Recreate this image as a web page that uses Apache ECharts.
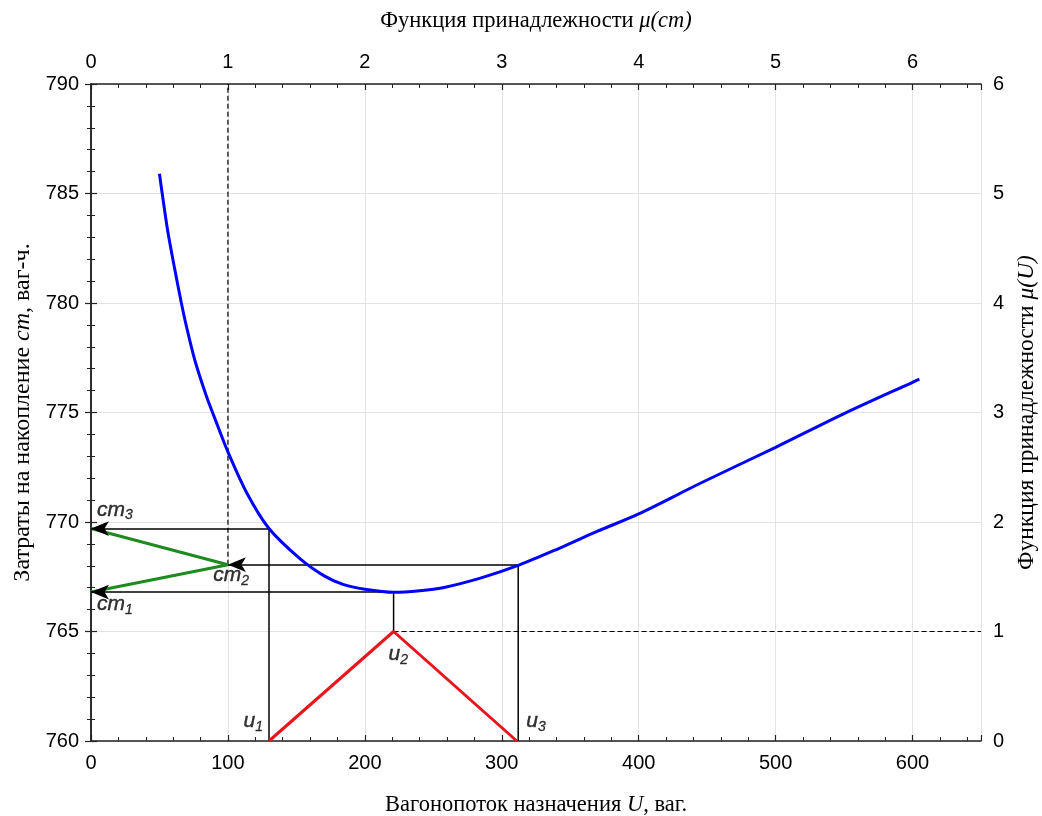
<!DOCTYPE html>
<html>
<head>
<meta charset="utf-8">
<script src="https://cdn.jsdelivr.net/npm/echarts@6.0.0/dist/echarts.min.js"></script>
<style>
  html, body { margin: 0; padding: 0; background: #fff; }
  #chart { width: 1042px; height: 816px; }
</style>
</head>
<body>
<div id="chart"></div>
<script>
// blue cost curve cm(U)
const curveU = [50, 52, 56, 61, 66, 70, 76, 84, 90, 100, 114, 130, 153, 170, 184, 200, 221, 240, 257, 285, 313, 342, 370, 400, 445, 500, 550, 600, 605];
const curveCost = [785.9, 785.0, 783.3, 781.6, 780.0, 778.85, 777.35, 775.8, 774.8, 773.2, 771.3, 769.7, 768.3, 767.55, 767.15, 766.93, 766.79, 766.86, 767.0, 767.45, 768.04, 768.8, 769.58, 770.37, 771.77, 773.41, 774.95, 776.38, 776.52];

// triangular membership mu(U): u1, u2, u3 (right axis)
const uPoints = [130, 221, 311];
const muU = [0, 1, 0];

// cost levels cm3, cm2, cm1 and their membership mu(cm) (top axis)
const cmValues = [769.7, 768.05, 766.8];
const muCm = [0, 1, 0];

// projections u -> curve -> cost axis
const projU = [130, 221, 312];
const projBase = [760, 765, 760];
const projCm = [769.7, 766.8, 768.05];
const projArrowEnd = [0, 0, 100];

const sans = "'Liberation Sans', Arial, sans-serif";
const serif = "'Liberation Serif', 'Times New Roman', serif";
const black = '#000';

const tickStyle = { color: '#000', fontSize: 20, fontFamily: sans };
function nameRich(size) {
    return {
        n: { fontFamily: serif, fontSize: size, color: '#000' },
        i: { fontFamily: serif, fontSize: size, fontStyle: 'italic', color: '#000' },
    };
}

function baseAxis(extra) {
    return Object.assign({
        type: 'value',
        axisLine: { show: true, lineStyle: { color: '#222', width: 1.5 } },
        axisTick: { show: true, inside: true, length: 6, lineStyle: { color: '#222', width: 1.2 } },
        minorTick: { show: true, splitNumber: 5, length: 4, lineStyle: { color: '#222', width: 1 } },
        axisLabel: Object.assign({ margin: 12 }, tickStyle),
        splitLine: { show: false },
        nameLocation: 'middle',
    }, extra);
}

const gridLine = { show: true, lineStyle: { color: '#e3e3e3', width: 1 } };

const labelRich = {
    m: { fontFamily: sans, fontSize: 21, fontStyle: 'italic', color: '#000', lineHeight: 25,
         textBorderColor: '#000', textBorderWidth: 0.4 },
    s: { fontFamily: sans, fontSize: 14, fontStyle: 'italic', color: '#000', lineHeight: 14, verticalAlign: 'bottom',
         textBorderColor: '#000', textBorderWidth: 0.3 },
};

// label anchors (left edge / middle of the main text)
const markLabels = [
    { pos: [4, 770.55], text: 'cm', sub: '3' },
    { pos: [89, 767.55], text: 'cm', sub: '2' },
    { pos: [4, 766.25], text: 'cm', sub: '1' },
    { pos: [111, 760.9], text: 'u', sub: '1' },
    { pos: [217, 763.95], text: 'u', sub: '2' },
    { pos: [317.5, 760.9], text: 'u', sub: '3' },
];

const chart = echarts.init(document.getElementById('chart'));

const option = {
    animation: false,
    backgroundColor: '#fff',
    grid: { left: 91, right: 61, top: 84, bottom: 75, containLabel: false, outerBoundsMode: 'none' },
    xAxis: [
        baseAxis({
            position: 'bottom', min: 0, max: 650, interval: 100,
            splitLine: gridLine,
            axisLabel: Object.assign({ margin: 12, showMaxLabel: false }, tickStyle),
            name: '{n|Вагонопоток назначения }{i|U}{n|, ваг.}',
            nameTextStyle: { rich: nameRich(22.5) },
            nameGap: 53,
        }),
        baseAxis({
            position: 'top', min: 0, max: 6.5, interval: 1,
            axisLabel: Object.assign({ margin: 12, showMaxLabel: false }, tickStyle),
            name: '{n|Функция принадлежности }{i|μ(cm)}',
            nameTextStyle: { rich: nameRich(22.5) },
            nameGap: 51,
        }),
    ],
    yAxis: [
        baseAxis({
            position: 'left', min: 760, max: 790, interval: 5,
            splitLine: gridLine,
            name: '{n|Затраты на накопление }{i|cm}{n|, ваг-ч.}',
            nameTextStyle: { rich: nameRich(24) },
            nameGap: 52, nameRotate: 90,
        }),
        baseAxis({
            position: 'right', min: 0, max: 6, interval: 1,
            name: '{n|Функция принадлежности }{i|μ(U)}',
            nameTextStyle: { rich: nameRich(23.5) },
            nameGap: 32, nameRotate: 90,
        }),
    ],
    series: [
        {
            name: 'cost',
            type: 'line',
            xAxisIndex: 0, yAxisIndex: 0,
            data: curveU.map((u, i) => [u, curveCost[i]]),
            smooth: 0.3,
            showSymbol: false,
            lineStyle: { color: '#0000ff', width: 3 },
            z: 5,
            markLine: {
                silent: true,
                symbol: ['none', 'arrow'],
                label: { show: false },
                lineStyle: { color: black, width: 1.5, type: 'solid' },
                emphasis: { disabled: true },
                data: projU.map((u, i) => [
                    { coord: [u, projCm[i]], symbol: 'none' },
                    { coord: [projArrowEnd[i], projCm[i]], symbol: 'arrow', symbolSize: [11, 18] },
                ]),
            },
        },
        // vertical projections from u1, u2, u3 up to the curve
        ...projU.map((u, i) => ({
            type: 'line',
            xAxisIndex: 0, yAxisIndex: 0,
            data: [[u, projBase[i]], [u, projCm[i]]],
            showSymbol: false,
            lineStyle: { color: black, width: 1.5 },
            z: 3,
        })),
        {
            name: 'mu(U)',
            type: 'line',
            xAxisIndex: 0, yAxisIndex: 1,
            data: uPoints.map((u, i) => [u, muU[i]]),
            showSymbol: false,
            lineStyle: { color: '#e8151b', width: 3 },
            z: 4,
        },
        {
            name: 'mu(cm)',
            type: 'line',
            xAxisIndex: 1, yAxisIndex: 0,
            data: muCm.map((m, i) => [m, cmValues[i]]),
            showSymbol: false,
            lineStyle: { color: '#1f8a1f', width: 3 },
            z: 4,
        },
        {
            type: 'line',
            xAxisIndex: 1, yAxisIndex: 0,
            data: [[1, cmValues[1]], [1, 790]],
            showSymbol: false,
            lineStyle: { color: black, width: 1.2, type: [5, 3] },
            z: 2,
        },
        {
            type: 'line',
            xAxisIndex: 0, yAxisIndex: 1,
            data: [[uPoints[1], 1], [650, 1]],
            showSymbol: false,
            lineStyle: { color: black, width: 1.2, type: [5, 3] },
            z: 2,
        },
        {
            type: 'scatter',
            xAxisIndex: 0, yAxisIndex: 0,
            symbolSize: 1,
            itemStyle: { color: 'rgba(0,0,0,0)' },
            silent: true,
            data: markLabels.map((d) => ({
                value: d.pos,
                label: {
                    show: true,
                    position: 'right',
                    distance: 0,
                    color: '#000',
                    formatter: '{m|' + d.text + '}{s|' + d.sub + '}',
                    rich: labelRich,
                },
            })),
            z: 6,
        },
    ],
};

chart.setOption(option);
</script>
</body>
</html>
